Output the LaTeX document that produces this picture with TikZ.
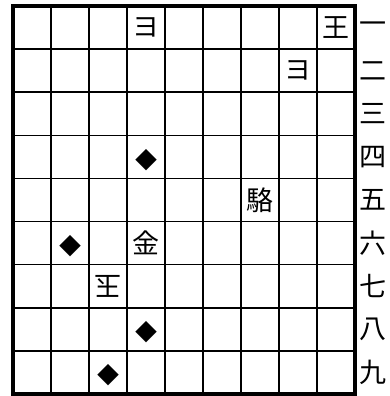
\documentclass[tikz,border=0pt]{standalone}
\usepackage{fontspec}
\newfontfamily\jpfont{Noto Sans CJK JP}
\usetikzlibrary{calc}

\def\cw{38}
\def\ch{43.11}

\begin{document}
\begin{tikzpicture}[x=1pt,y=-1pt,
    piece/.style={font=\jpfont\fontsize{27}{27}\selectfont, inner sep=0pt},
    dotmark/.style={font=\jpfont\fontsize{22}{22}\selectfont, inner sep=0pt},
    rowlab/.style={font=\jpfont\fontsize{27}{27}\selectfont, inner sep=0pt}]

    \useasboundingbox (0,0) rectangle (389,396);

    % grid
    \foreach \i in {1,...,8} {
        \draw[line width=1.5] ({13+\cw*\i}, 6) -- ({13+\cw*\i}, 394);
        \draw[line width=1.5] (13, {6+\ch*\i}) -- (355, {6+\ch*\i});
    }
    \draw[line width=4] (13,6) rectangle (355,394);

    % rank labels
    \foreach \r/\t in {1/一,2/二,3/三,4/四,5/五,6/六,7/七,8/八,9/九}
        \node[rowlab] (rank\r) at (373, {6+\ch*(\r-0.5)}) {\t};

    % pieces
    \node[piece] (p41) at ({13+\cw*3.5}, {6+\ch*0.5}) {ヨ};
    \node[piece] (p91) at ({13+\cw*8.5}, {6+\ch*0.5}) {王};
    \node[piece] (p82) at ({13+\cw*7.5}, {6+\ch*1.5}) {ヨ};
    \node[piece] (p75) at ({13+\cw*6.5}, {6+\ch*4.5}) {駱};
    \node[piece] (p46) at ({13+\cw*3.5}, {6+\ch*5.5}) {金};
    \node[piece, rotate=180] (p37) at ({13+\cw*2.5}, {6+\ch*6.5}) {玉};

    % marks
    \node[dotmark] (m44) at ({13+\cw*3.5}, {6+\ch*3.5+3}) {◆};
    \node[dotmark] (m26) at ({13+\cw*1.5}, {6+\ch*5.5+3}) {◆};
    \node[dotmark] (m48) at ({13+\cw*3.5}, {6+\ch*7.5+3}) {◆};
    \node[dotmark] (m39) at ({13+\cw*2.5}, {6+\ch*8.5+3}) {◆};

\end{tikzpicture}
\end{document}
